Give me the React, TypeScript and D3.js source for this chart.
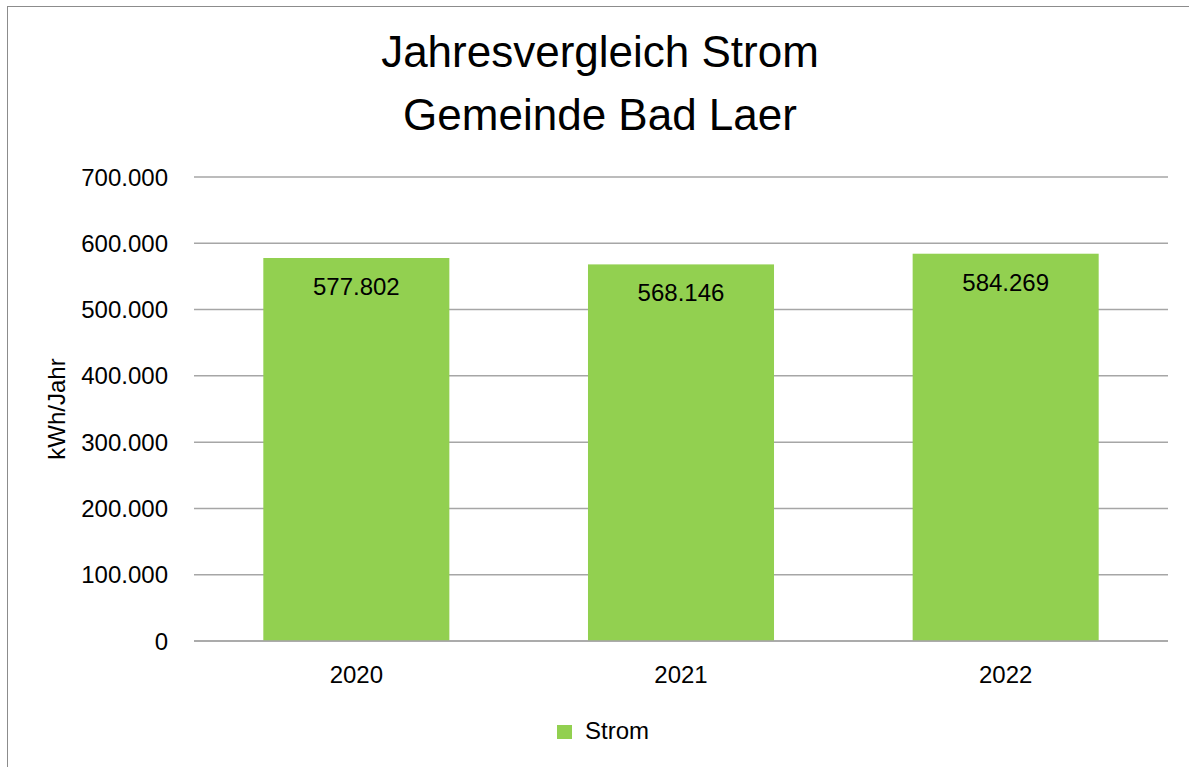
import React from "react";
import * as d3 from "d3";

const categories: string[] = ["2020", "2021", "2022"];
const stromValues: number[] = [577802, 568146, 584269];
const yTicks: number[] = [0, 100000, 200000, 300000, 400000, 500000, 600000, 700000];
const titleLines: string[] = ["Jahresvergleich Strom", "Gemeinde Bad Laer"];
const seriesName = "Strom";
const yAxisTitle = "kWh/Jahr";

const W = 1189;
const H = 767;
const FONT = "'Liberation Sans', Arial, sans-serif";
const GREEN = "#92D050";

const fmt = (v: number) => {
  const s = d3.format(",")(v);
  return s.replace(/,/g, ".");
};

export default function App() {
  const left = 194;
  const right = 1168;
  const top = 177;
  const bottom = 641;

  const x = d3.scaleBand<string>().domain(categories).range([left, right]).paddingInner(0.427).paddingOuter(0.2135);
  const y = d3.scaleLinear().domain([0, 700000]).range([bottom, top]);

  return (
    <svg
      width={W}
      height={H}
      style={{ position: "absolute", left: 0, top: 0, background: "#fff" }}
      fontFamily={FONT}
    >
      <rect x={7.5} y={6.5} width={W + 10} height={H + 10} fill="#fff" stroke="#8c8c8c" strokeWidth={1} />
      {titleLines.map((t, i) => (
        <text key={t} x={600} y={67 + i * 63} textAnchor="middle" fontSize={44} fill="#000">
          {t}
        </text>
      ))}
      {yTicks.map((t) => (
        <g key={t}>
          <line x1={left} x2={right} y1={y(t)} y2={y(t)} stroke="#a6a6a6" strokeWidth={1.5} />
          <text x={168} y={y(t) + 8.5} textAnchor="end" fontSize={24} fill="#000">
            {fmt(t)}
          </text>
        </g>
      ))}
      {categories.map((c, i) => (
        <g key={c}>
          <rect x={x(c)} y={y(stromValues[i])} width={x.bandwidth()} height={y(0) - y(stromValues[i])} fill={GREEN} />
          <text x={(x(c) as number) + x.bandwidth() / 2} y={y(stromValues[i]) + 37} textAnchor="middle" fontSize={24} fill="#000">
            {fmt(stromValues[i])}
          </text>
          <text x={(x(c) as number) + x.bandwidth() / 2} y={683} textAnchor="middle" fontSize={24} fill="#000">
            {c}
          </text>
        </g>
      ))}
      <line x1={left} x2={right} y1={y(0)} y2={y(0)} stroke="#a6a6a6" strokeWidth={1.5} />
      <text transform={`translate(65,409) rotate(-90)`} textAnchor="middle" fontSize={24} fill="#000">
        {yAxisTitle}
      </text>
      <rect x={557} y={725} width={15} height={14} fill={GREEN} />
      <text x={585} y={739} fontSize={24} fill="#000">
        {seriesName}
      </text>
    </svg>
  );
}
